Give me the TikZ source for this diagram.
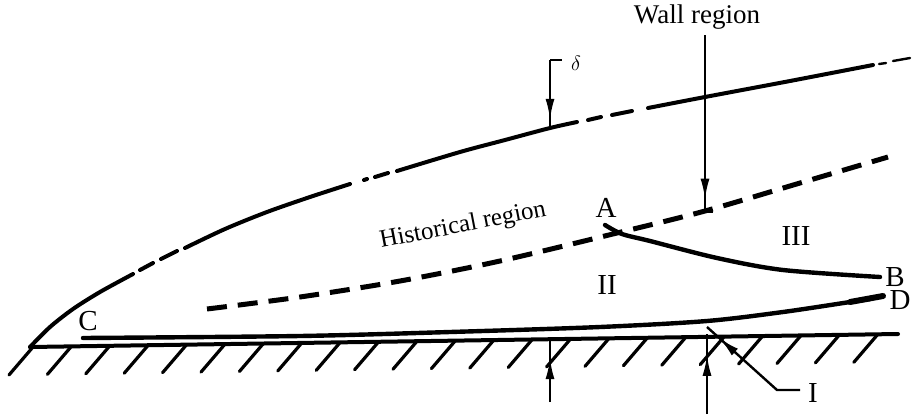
\documentclass[tikz,border=0pt]{standalone}
\usepackage{fontspec}
\setmainfont{Liberation Serif}
\usetikzlibrary{arrows.meta,decorations.markings}
\begin{document}
\begin{tikzpicture}[x=1pt,y=-1pt,
  bl/.style={line width=4pt,line cap=round},
  histline/.style={line width=5pt,dash pattern=on 20pt off 11pt},
  hatch/.style={line width=3.2pt,line cap=round},
  lead/.style={line width=2.4pt},
  midtip/.style={postaction={decorate},decoration={markings,
    mark=at position #1 with {\arrow{Latex[length=21pt,width=9pt]}}}},
  lbl/.style={font=\fontsize{29}{34}\selectfont,inner sep=1pt}]
\useasboundingbox (0,0) rectangle (917,415);
% wall and hatching
\coordinate (w0) at (30,347);
\coordinate (w1) at (898,334);
\draw[line width=4pt,line cap=round] (w0) -- (w1);
\foreach \k in {0,...,22}{
  \pgfmathsetmacro{\hx}{33+38.4*\k}
  \pgfmathsetmacro{\hy}{347-13*(\hx-30)/868}
  \draw[hatch] (\hx,\hy) -- ++(-24,28);
}
% outer edge delta
\draw[bl] plot[smooth] coordinates {(30,347) (50,327) (73,309) (100,292) (133,274)};
\draw[bl] (140,270) -- (153,263) (161,259) -- (177,251);
\draw[bl] plot[smooth] coordinates {(185,248) (225,229) (267,212) (310,197) (350,184)};
\draw[bl] (364,180) -- (367,179) (375,177) -- (388,173);
\draw[bl] plot[smooth] coordinates {(397,171) (460,152) (505,140) (550,128) (577,122)};
\draw[bl] (588,120) -- (601,117) (612,115) -- (632,111);
\draw[bl] plot[smooth] coordinates {(648,108) (705,97) (790,81) (873,65)};
\draw[line width=2.4pt,line cap=round] (879,64) -- (886,63) (893,61) -- (910,58);
% historical region boundary
\draw[histline] plot[smooth] coordinates {(207,309) (300,297) (400,281) (500,261) (617,233) (705,211) (800,183) (888,157)};
% A--B and C--D
\draw[line width=4.4pt,line cap=round] plot[smooth] coordinates {(605,225) (622,234) (650,241) (717,258) (783,270) (880,277)};
\draw[line width=4.4pt,line cap=round] plot[smooth] coordinates {(83,338) (300,336) (450,332) (600,327) (707,321) (783,312) (850,302) (870,299)};
\draw[line width=6pt,line cap=round] (850,302) -- (883,296);
% markers
\coordinate (dtop) at (550,60);
\coordinate (dfoot) at (550,128);
\draw[lead,midtip=0.88] (dtop) -- (dfoot);
\draw[lead] (dtop) -- ++(12,0);
\node[lbl,font=\fontsize{22}{26}\selectfont] (delta) at (576,63) {$\delta$};
\node[lbl,font=\fontsize{27}{32}\selectfont] (wall) at (697,17) {Wall region};
\coordinate (wtop) at (705,35);
\coordinate (wfoot) at (705,212);
\draw[lead,midtip=0.93] (wtop) -- (wfoot);
\draw[lead] (697,212) -- (713,212);
\coordinate (u1b) at (550,402);
\coordinate (u1t) at (550,341);
\draw[lead,midtip=0.72] (u1b) -- (u1t);
\coordinate (u2b) at (707,414);
\coordinate (u2t) at (707,334);
\draw[lead,midtip=0.74] (u2b) -- (u2t);
\coordinate (ib) at (800,390);
\coordinate (ik) at (777,390);
\coordinate (it) at (707,327);
\draw[lead,midtip=0.86] (ib) -- (ik) -- (it);
% labels
\node[lbl,font=\fontsize{25}{30}\selectfont,rotate=11] (hist) at (463,226) {Historical region};
\node[lbl] (A) at (606,208) {A};
\node[lbl] (B) at (895,277) {B};
\node[lbl] (C) at (88,321) {C};
\node[lbl] (D) at (900,300) {D};
\node[lbl] (II) at (607,285) {II};
\node[lbl] (III) at (796,236) {III};
\node[lbl] (I) at (813,393) {I};
\end{tikzpicture}
\end{document}
